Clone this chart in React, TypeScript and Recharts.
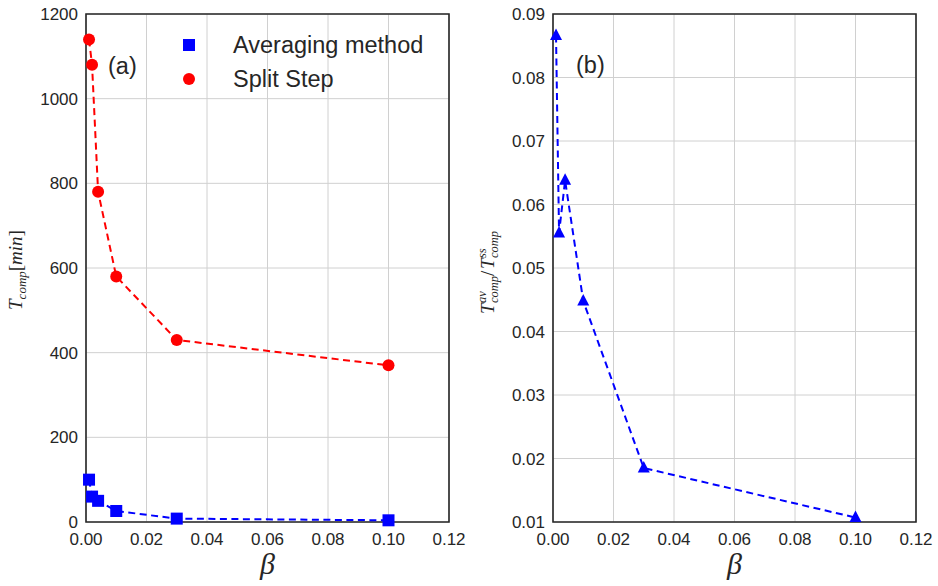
import React from 'react';
import { ComposedChart, Line, XAxis, YAxis, CartesianGrid, ReferenceArea, Legend } from 'recharts';

const beta = [0.001, 0.002, 0.004, 0.01, 0.03, 0.1];
const averaging = [100, 60, 50, 26, 8, 4];
const splitStep = [1140, 1080, 780, 580, 430, 370];
const ratio = [0.0866, 0.0555, 0.0638, 0.0448, 0.0185, 0.0107];

const seriesNames = ['Averaging method', 'Split Step'];
const xTicks = [0, 0.02, 0.04, 0.06, 0.08, 0.1, 0.12];
const yTicksLeft = [0, 200, 400, 600, 800, 1000, 1200];
const yTicksRight = [0.01, 0.02, 0.03, 0.04, 0.05, 0.06, 0.07, 0.08, 0.09];

const leftData = beta.map((b, i) => ({ beta: b, avg: averaging[i], ss: splitStep[i] }));
const rightData = beta.map((b, i) => ({ beta: b, ratio: ratio[i] }));

const TXT = '#262626';
const SANS = '"Liberation Sans", Arial, sans-serif';
const SERIF = '"Liberation Serif", "DejaVu Serif", serif';
const BLUE = '#0000ff';
const RED = '#ff0000';
const GRID = '#d0d0d0';
const DASH = '7 4.5';
const tickStyle = { fill: TXT, fontSize: 17, fontFamily: SANS };

const SquareDot = (p: any) => (
  <rect key={`s${p.index}`} x={p.cx - 6} y={p.cy - 6} width={12} height={12} fill={BLUE} />
);
const CircleDot = (p: any) => <circle key={`c${p.index}`} cx={p.cx} cy={p.cy} r={6} fill={RED} />;
const TriDot = (p: any) => (
  <polygon
    key={`t${p.index}`}
    points={`${p.cx},${p.cy - 7} ${p.cx - 6},${p.cy + 4.5} ${p.cx + 6},${p.cy + 4.5}`}
    fill={BLUE}
  />
);

const LegendBox = () => (
  <div style={{ fontFamily: SANS, fontSize: 23.5, color: TXT }}>
    {seriesNames.map((n, i) => (
      <div key={n} style={{ height: 34, display: 'flex', alignItems: 'center', position: 'relative' }}>
        <div
          style={{
            position: 'absolute',
            left: 3,
            top: 11,
            width: 12,
            height: 12,
            background: i === 0 ? BLUE : RED,
            borderRadius: i === 0 ? 0 : 6,
          }}
        />
        <span style={{ marginLeft: 53, whiteSpace: 'nowrap', lineHeight: '34px' }}>{n}</span>
      </div>
    ))}
  </div>
);

const BetaLabel = (cx: number) => () => (
  <text x={cx} y={574} textAnchor="middle" fontFamily={SERIF} fontStyle="italic" fontSize={30} fill={TXT}>
    β
  </text>
);

const LeftYLabel = () => (
  <g>
    <g transform="translate(22,270) rotate(-90)">
      <text x={0} y={0} textAnchor="middle" fontFamily={SERIF} fontSize={19} fill={TXT}>
        <tspan fontStyle="italic">T</tspan>
        <tspan fontStyle="italic" fontSize={13} dy={4}>comp</tspan>
        <tspan dy={-4}>[</tspan>
        <tspan fontStyle="italic">min</tspan>
        <tspan>]</tspan>
      </text>
    </g>
    <text x={108} y={74} fontFamily={SANS} fontSize={23.5} fill={TXT}>(a)</text>
  </g>
);

const RightYLabel = () => (
  <g>
    <g transform="translate(24,270) rotate(-90)" fontFamily={SERIF} fill={TXT}>
      <text x={-44} y={0} fontSize={19} fontStyle="italic">T</text>
      <text x={-33} y={-8} fontSize={12.5} fontStyle="italic">av</text>
      <text x={-33} y={4} fontSize={12.5} fontStyle="italic">comp</text>
      <text x={-6} y={0} fontSize={19}>/</text>
      <text x={1} y={0} fontSize={19} fontStyle="italic">T</text>
      <text x={12} y={-8} fontSize={12.5} fontStyle="italic">ss</text>
      <text x={12} y={4} fontSize={12.5} fontStyle="italic">comp</text>
    </g>
    <text x={106} y={73} fontFamily={SANS} fontSize={23.5} fill={TXT}>(b)</text>
  </g>
);

export default function App() {
  return (
    <div style={{ position: 'absolute', left: 0, top: 0, width: 938, height: 586, background: '#fff' }}>
      <div style={{ position: 'absolute', left: 0, top: 0 }}>
        <ComposedChart width={470} height={586} data={leftData} margin={{ top: 14, right: 21, bottom: 0, left: 0 }}>
          <CartesianGrid stroke={GRID} strokeWidth={1} />
          <XAxis
            dataKey="beta"
            type="number"
            domain={[0, 0.12]}
            ticks={xTicks}
            tickFormatter={(v: number) => v.toFixed(2)}
            axisLine={false}
            tickLine={false}
            tickMargin={5}
            tick={tickStyle}
            height={64}
            label={{ content: BetaLabel(267.5) }}
          />
          <YAxis
            type="number"
            domain={[0, 1200]}
            ticks={yTicksLeft}
            axisLine={false}
            tickLine={false}
            tick={tickStyle}
            width={86}
            label={{ content: LeftYLabel }}
          />
          <ReferenceArea x1={0} x2={0.12} y1={0} y2={1200} fill="none" fillOpacity={0} stroke={TXT} strokeWidth={1.6} />
          <Line
            dataKey="avg"
            name={seriesNames[0]}
            stroke={BLUE}
            strokeWidth={2}
            strokeDasharray={DASH}
            dot={SquareDot}
            activeDot={false}
            isAnimationActive={false}
            type="linear"
          />
          <Line
            dataKey="ss"
            name={seriesNames[1]}
            stroke={RED}
            strokeWidth={2}
            strokeDasharray={DASH}
            dot={CircleDot}
            activeDot={false}
            isAnimationActive={false}
            type="linear"
          />
          <Legend
            layout="vertical"
            align="center"
            verticalAlign="middle"
            content={LegendBox}
            wrapperStyle={{ left: 180, top: 28, width: 260, height: 70 }}
          />
        </ComposedChart>
      </div>
      <div style={{ position: 'absolute', left: 470, top: 0 }}>
        <ComposedChart width={468} height={586} data={rightData} margin={{ top: 14, right: 22, bottom: 0, left: 0 }}>
          <CartesianGrid stroke={GRID} strokeWidth={1} />
          <XAxis
            dataKey="beta"
            type="number"
            domain={[0, 0.12]}
            ticks={xTicks}
            tickFormatter={(v: number) => v.toFixed(2)}
            axisLine={false}
            tickLine={false}
            tickMargin={5}
            tick={tickStyle}
            height={64}
            label={{ content: BetaLabel(264.5) }}
          />
          <YAxis
            type="number"
            domain={[0.01, 0.09]}
            ticks={yTicksRight}
            tickFormatter={(v: number) => v.toFixed(2)}
            axisLine={false}
            tickLine={false}
            tick={tickStyle}
            width={83}
            label={{ content: RightYLabel }}
          />
          <ReferenceArea x1={0} x2={0.12} y1={0.01} y2={0.09} fill="none" fillOpacity={0} stroke={TXT} strokeWidth={1.6} />
          <Line
            dataKey="ratio"
            stroke={BLUE}
            strokeWidth={2}
            strokeDasharray={DASH}
            dot={TriDot}
            activeDot={false}
            isAnimationActive={false}
            type="linear"
          />
        </ComposedChart>
      </div>
    </div>
  );
}
